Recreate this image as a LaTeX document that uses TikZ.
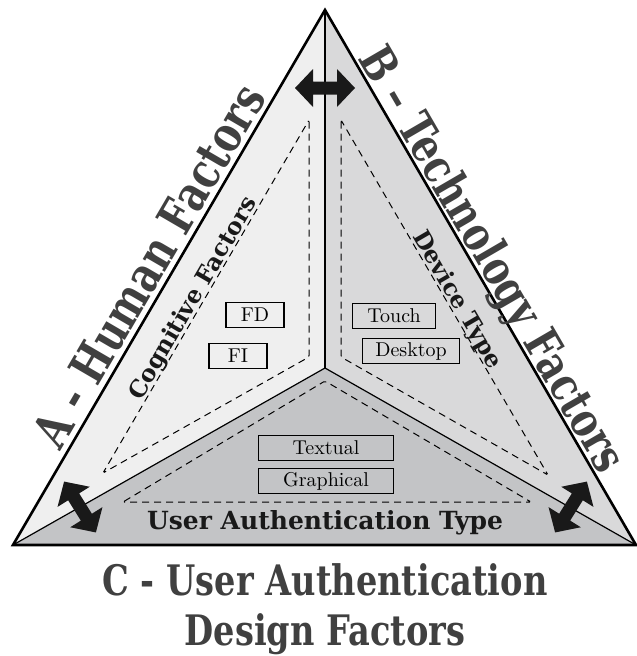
\documentclass[tikz,border=0pt]{standalone}
\usepackage{fontspec}
\usetikzlibrary{calc}
\newfontfamily\titlefont{DejaVu Serif}[FakeStretch=0.8]
\newfontfamily\areafont{DejaVu Serif}
\font\boxfont="[lmroman10-regular]:+tlig" at 20pt
\definecolor{lightside}{HTML}{EFEFEF}
\definecolor{midside}{HTML}{D9D9DA}
\definecolor{darkside}{HTML}{C3C4C6}
\definecolor{titlegray}{HTML}{404040}

\begin{document}
\begin{tikzpicture}[x=1pt, y=-1pt,
        outer/.style={line width=2.6pt, line join=miter},
        divider/.style={line width=1.2pt},
        dashtri/.style={dash pattern=on 7pt off 5pt, line width=1pt, rounded corners=1.5pt},
        itembox/.style={draw, line width=1.6pt, inner sep=0pt, minimum height=25pt,
            font=\boxfont, text=black},
        maintitle/.style={font=\titlefont\bfseries\fontsize{42}{50}\selectfont, text=titlegray},
        sidetitle/.style={font=\titlefont\bfseries\fontsize{49}{60}\selectfont, text=titlegray, inner sep=0pt},
        areatitle/.style={font=\areafont\bfseries\fontsize{23.5}{26}\selectfont, text=black!90},
        dblarrow/.pic={
            \fill[black!90] (-30,0) -- (-12,-19) -- (-12,-6.5) -- (12,-6.5) -- (12,-19)
                -- (30,0) -- (12,19) -- (12,6.5) -- (-12,6.5) -- (-12,19) -- cycle;
        }]

    \useasboundingbox (0,0) rectangle (637,656);

    % corners of the triangle
    \coordinate (top) at (325,10);
    \coordinate (bl) at (13,545);
    \coordinate (br) at (636,545);
    \coordinate (mid) at (325,368);

    % the three sides
    \fill[lightside] (top) -- (mid) -- (bl) -- cycle;
    \fill[midside] (top) -- (mid) -- (br) -- cycle;
    \fill[darkside] (bl) -- (mid) -- (br) -- cycle;

    % dashed areas
    \coordinate (cogtop) at (309,120);
    \coordinate (cogbot) at (103,473);
    \coordinate (devtop) at (341,120);
    \coordinate (devbot) at (548,475);
    \draw[dashtri] (cogtop) -- (309,357) -- (cogbot) -- cycle;
    \draw[dashtri] (devtop) -- (341,357) -- (devbot) -- cycle;
    \draw[dashtri] (123,502) -- (325,381) -- (531,502) -- cycle;

    \draw[line width=2.2pt] (top) -- (mid);
    \draw[divider] (mid) -- (bl);
    \draw[divider] (mid) -- (br);

    % factor boxes
    \node[itembox, minimum width=58pt] (fd) at (255,315) {FD};
    \node[itembox, minimum width=58pt] (fi) at (238,356) {FI};
    \node[itembox, minimum width=83pt] (touch) at (394,316) {Touch};
    \node[itembox, minimum width=97pt] (desktop) at (411,351) {Desktop};
    \node[itembox, minimum width=135pt] (textual) at (326,448) {Textual};
    \node[itembox, minimum width=135pt] (graphical) at (326,481) {Graphical};

    \pic at (325,88) {dblarrow};
    \pic[rotate=-58] at (80,507) {dblarrow};
    \pic[rotate=58] at (571,507) {dblarrow};

    \draw[outer] (top) -- (br) -- (bl) -- cycle;

    % labels
    \path (bl) -- node[sidetitle, sloped, anchor=base, yshift=6pt] (human) {A - Human Factors} (top);
    \path (top) -- node[sidetitle, font=\titlefont\bfseries\fontsize{47}{60}\selectfont,
        sloped, anchor=base, yshift=4pt, pos=0.485] (tech) {B – Technology Factors} (br);
    \path (cogbot) -- node[areatitle, sloped, anchor=base, yshift=3pt, pos=0.48] (cognitive) {Cognitive Factors} (cogtop);
    \path (devtop) -- node[areatitle, sloped, anchor=base, yshift=3pt, pos=0.52] (device) {Device Type} (devbot);
    \node[areatitle, font=\areafont\bfseries\fontsize{25}{27}\selectfont, anchor=base] (authtype) at (325,529) {User Authentication Type};
    \node[maintitle, anchor=base] (design) at (325,595) {C - User Authentication};
    \node[maintitle, anchor=base] (design2) at (325,645) {Design Factors};
\end{tikzpicture}
\end{document}
